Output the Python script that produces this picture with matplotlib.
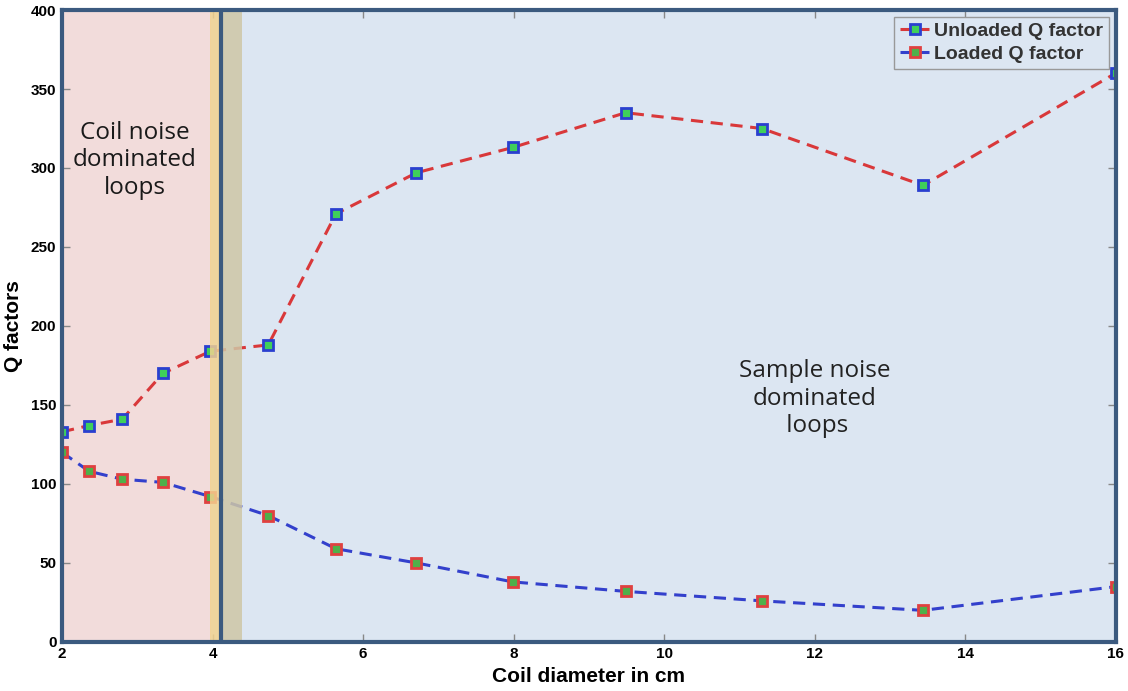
import matplotlib
matplotlib.use("Agg")
import matplotlib.pyplot as plt

# coil diameters (cm) and measured Q factors
diameter = [2.0, 2.36, 2.8, 3.34, 3.97, 4.74, 5.64, 6.71, 7.99, 9.49, 11.3, 13.44, 16.0]
q_unloaded = [133, 137, 141, 170, 184, 188, 271, 297, 313, 335, 325, 289, 360]
q_loaded = [120, 108, 103, 101, 92, 80, 59, 50, 38, 32, 26, 20, 35]

x_ticks = [2, 4, 6, 8, 10, 12, 14, 16]
y_ticks = [0, 50, 100, 150, 200, 250, 300, 350, 400]

plt.rcParams["font.family"] = ["Liberation Sans", "DejaVu Sans"]

fig = plt.figure(figsize=(11.28, 6.91), dpi=100)
ax = fig.add_axes([0.055, 0.071, 0.934, 0.9145])

# noise regime backgrounds
ax.axvspan(2, 3.98, color="#f2dcdb", zorder=0)
ax.axvspan(3.98, 16, color="#dce6f2", zorder=0)

ax.plot(diameter, q_unloaded, "--s", color="#d9383a", lw=2.2, ms=7.5,
        mec="#2a3fd0", mfc="#3fcf5a", mew=2, dashes=(4, 2.5),
        label="Unloaded Q factor", zorder=3)
ax.plot(diameter, q_loaded, "--s", color="#3340cc", lw=2.2, ms=7.5,
        mec="#e04040", mfc="#4fb04a", mew=2, dashes=(4, 2.5),
        label="Loaded Q factor", zorder=3)

# boundary band between regimes
ax.axvspan(3.97, 4.09, color="#f3d28e", alpha=0.85, zorder=4, lw=0)
ax.axvspan(4.13, 4.39, color="#cfc7a6", alpha=0.85, zorder=4, lw=0)
ax.axvline(4.11, color="#3b5a7f", lw=3, zorder=5)

txt_font = ["Open Sans", "DejaVu Sans"]
ax.text(2.97, 305, "Coil noise\ndominated\nloops", ha="center", va="center",
        fontsize=17.5, color="#1a1a1a", family=txt_font, fontweight="medium",
        linespacing=1.2, zorder=6)
ax.text(12.0, 154, "Sample noise\ndominated\n loops", ha="center", va="center",
        fontsize=17.5, color="#222222", family=txt_font, fontweight="medium",
        linespacing=1.2, zorder=6)

ax.set_xlim(2, 16)
ax.set_ylim(0, 400)
ax.set_xticks(x_ticks)
ax.set_yticks(y_ticks)
ax.tick_params(direction="in", length=6, color="#888888", width=1,
               labelsize=11, pad=4, top=True, right=True)
for lbl in ax.get_xticklabels() + ax.get_yticklabels():
    lbl.set_fontweight("bold")
ax.set_xlabel("Coil diameter in cm", fontsize=15, fontweight="bold", labelpad=4)
ax.set_ylabel("Q factors", fontsize=15, fontweight="bold", labelpad=6)

for s in ax.spines.values():
    s.set_color("#3b5a7f")
    s.set_linewidth(3)
    s.set_zorder(7)

leg = ax.legend(loc="upper right", fontsize=14, handlelength=1.5,
                handletextpad=0.25, borderpad=0.3, labelspacing=0.25,
                fancybox=False, framealpha=1, borderaxespad=0.35)
leg.get_frame().set_facecolor("#dce6f2")
leg.get_frame().set_edgecolor("#999999")
for t in leg.get_texts():
    t.set_fontweight("bold")
    t.set_color("#333333")

fig.savefig("out.png", dpi=100)
